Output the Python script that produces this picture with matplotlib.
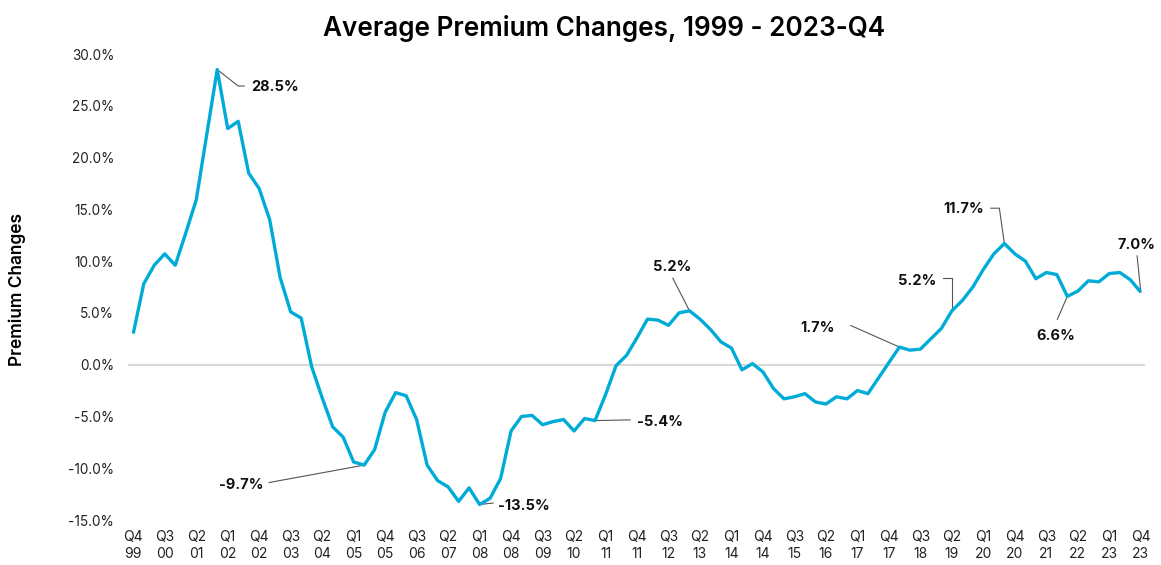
import numpy as np
import matplotlib
matplotlib.use('Agg')
import matplotlib.pyplot as plt

plt.rcParams['font.family'] = ['Inter', 'DejaVu Sans']

# ─── data ─────────────────────────────────────────────
premium_change = [
    3.0, 7.8, 9.6, 10.7, 9.6, 12.7, 15.9, 22.2, 28.5, 22.8,
    23.5, 18.5, 17.0, 14.0, 8.4, 5.1, 4.5, -0.2, -3.2, -6.0,
    -7.0, -9.4, -9.7, -8.2, -4.6, -2.7, -3.0, -5.3, -9.7, -11.2,
    -11.8, -13.2, -11.9, -13.5, -12.9, -11.0, -6.4, -5.0, -4.9, -5.8,
    -5.5, -5.3, -6.4, -5.2, -5.4, -2.9, -0.1, 0.9, 2.6, 4.4,
    4.3, 3.8, 5.0, 5.2, 4.4, 3.4, 2.2, 1.6, -0.5, 0.1,
    -0.7, -2.3, -3.3, -3.1, -2.8, -3.6, -3.8, -3.1, -3.3, -2.5,
    -2.8, -1.3, 0.2, 1.7, 1.4, 1.5, 2.5, 3.5, 5.2, 6.2,
    7.5, 9.2, 10.7, 11.7, 10.7, 10.0, 8.3, 8.9, 8.7, 6.6,
    7.1, 8.1, 8.0, 8.8, 8.9, 8.2, 7.0,
]

tick_labels = [
    'Q4\n99', 'Q3\n00', 'Q2\n01', 'Q1\n02', 'Q4\n02', 'Q3\n03', 'Q2\n04',
    'Q1\n05', 'Q4\n05', 'Q3\n06', 'Q2\n07', 'Q1\n08', 'Q4\n08', 'Q3\n09',
    'Q2\n10', 'Q1\n11', 'Q4\n11', 'Q3\n12', 'Q2\n13', 'Q1\n14', 'Q4\n14',
    'Q3\n15', 'Q2\n16', 'Q1\n17', 'Q4\n17', 'Q3\n18', 'Q2\n19', 'Q1\n20',
    'Q4\n20', 'Q3\n21', 'Q2\n22', 'Q1\n23', 'Q4\n23',
]

# points that get a callout label
callout_idx = [8, 22, 33, 44, 53, 73, 78, 83, 89, 96]
callout_text = ['28.5%', '-9.7%', '-13.5%', '-5.4%', '5.2%',
                '1.7%', '5.2%', '11.7%', '6.6%', '7.0%']

# ─── layout of callouts (pixel offsets from the point, y up) ─────────
callout_style = [
    # leader vertices, text offset, ha
    ([(0, 0), (21, -16.5), (27, -16.5)], (34, -17.5), 'left'),
    ([(0, 0), (-95, -17.4)], (-101, -19.5), 'right'),
    ([(0, 0), (13.5, 1.4)], (18.5, -1.3), 'left'),
    ([(0, 0), (35, 0.7)], (42, -1), 'left'),
    ([(0, 0), (-16.7, 32.6)], (-17.3, 44.2), 'center'),
    ([(0, 0), (-48.5, 21.5)], (-64.5, 18.9), 'right'),
    ([(0, 0), (0, 32.6), (-8.5, 32.6)], (-15.5, 30.2), 'right'),
    ([(0, 0), (-5, 35.3), (-13.6, 35.3)], (-20.3, 34.3), 'right'),
    ([(0, 0), (-10, -23)], (-11.7, -39.3), 'center'),
    ([(0, 0), (-3.7, 36.3)], (-4.7, 47.3), 'center'),
]

# ─── figure ───────────────────────────────────────────
fig = plt.figure(figsize=(11.61, 5.65), dpi=100)
ax = fig.add_axes([128/1161, 1-520/565, (1145-128)/1161, (520-54)/565])

x = np.arange(len(premium_change))
ax.axhline(0, color='#d9d9d9', lw=1.5, zorder=1)
ax.plot(x, premium_change, color='#00acd7', lw=2.4, zorder=3,
        solid_joinstyle='round', solid_capstyle='butt')

ax.set_xlim(-0.5, 96.4)
ax.set_ylim(-15, 30)
ax.set_xticks(x[::3], tick_labels, fontsize=10, color='#222222', linespacing=1.3)
yt = np.arange(-15, 30.1, 5)
ax.set_yticks(yt, [f'{v:.1f}%' for v in yt], fontsize=9.8, color='#222222')
ax.tick_params(axis='both', length=0)
ax.tick_params(axis='x', pad=7)
ax.tick_params(axis='y', pad=10)
for s in ax.spines.values():
    s.set_visible(False)

ax.set_ylabel('Premium Changes', fontsize=12.5, fontweight='semibold')
ax.yaxis.set_label_coords(-0.1, 0.495)
fig.suptitle('Average Premium Changes, 1999 - 2023-Q4', fontsize=18.8,
             fontweight='semibold', x=0.52, y=0.973)

# callouts
for i, txt, (verts, toff, ha) in zip(callout_idx, callout_text, callout_style):
    p = ax.transData.transform((x[i], premium_change[i]))
    pts = ax.transData.inverted().transform(np.array(verts) + p)
    ax.plot(pts[:, 0], pts[:, 1], color='#555555', lw=0.8, zorder=2)
    ax.annotate(txt, xy=(x[i], premium_change[i]), xytext=toff,
                textcoords='offset pixels', ha=ha, va='center',
                fontsize=10.5, fontweight='bold', color='#111111')

fig.savefig('out.png', dpi=100)
